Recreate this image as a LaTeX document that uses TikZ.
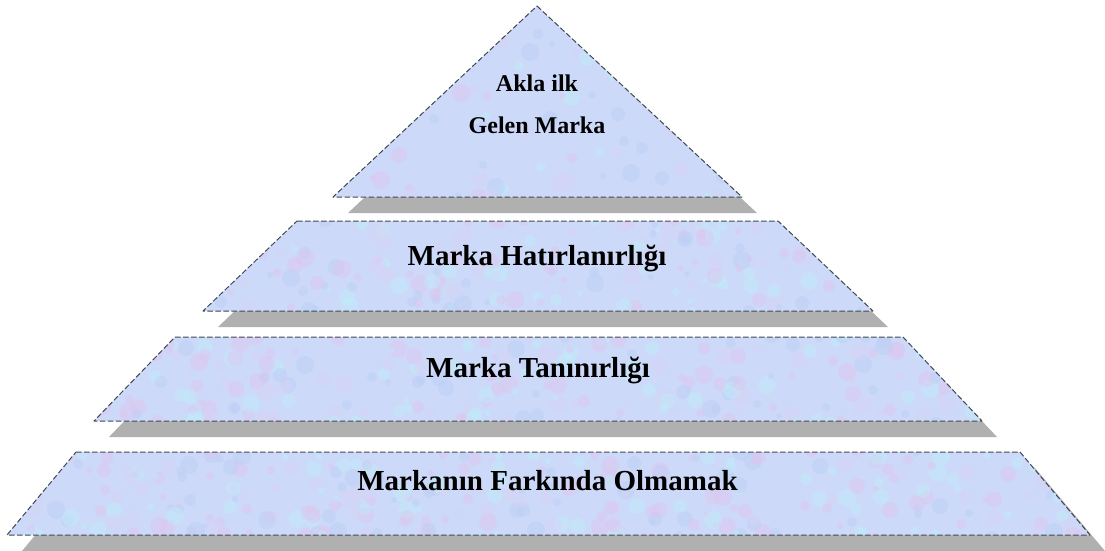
\documentclass[tikz,border=0pt]{standalone}
\usepackage{fontspec}
\setmainfont{Liberation Serif}
\definecolor{layerbase}{RGB}{204,217,248}
\definecolor{spotA}{RGB}{224,196,238}
\definecolor{spotB}{RGB}{190,238,248}
\definecolor{spotC}{RGB}{186,206,244}
\definecolor{spotD}{RGB}{218,210,246}
\definecolor{shadowgray}{RGB}{176,176,176}
\definecolor{edgegray}{RGB}{64,72,82}
\tikzset{
  edge/.style={draw=edgegray, line width=1pt, dash pattern=on 5.5pt off 2.5pt, line join=round},
  lbl/.style={inner sep=0pt, anchor=base, text=black},
  smalltxt/.style={lbl, font=\bfseries\fontsize{24}{29}\selectfont},
  bigtxt/.style={lbl, font=\bfseries\fontsize{29}{34}\selectfont},
}
% one pyramid level: offset shadow, mottled fill, dashed outline
% #1 outline path, #2 seed, #3 top y, #4 bottom y
\newcommand\pyrlevel[4]{%
  \fill[shadowgray, shift={(15,16)}] #1;
  \begin{scope}
    \clip #1;
    \fill[layerbase] (0,#3) rectangle (1105,#4);
    \pgfmathsetseed{#2}
    \foreach \k in {1,...,320}{%
      \pgfmathsetmacro\px{random(0,1105)}%
      \pgfmathsetmacro\py{random(#3,#4)}%
      \pgfmathsetmacro\pr{random(3,9)}%
      \pgfmathtruncatemacro\pc{random(1,4)}%
      \ifcase\pc\or
        \fill[spotA, fill opacity=0.45] (\px,\py) circle[radius=\pr];
      \or
        \fill[spotB, fill opacity=0.45] (\px,\py) circle[radius=\pr];
      \or
        \fill[spotC, fill opacity=0.4] (\px,\py) circle[radius=\pr];
      \else
        \fill[spotD, fill opacity=0.4] (\px,\py) circle[radius=\pr];
      \fi
    }
  \end{scope}
  \draw[edge] #1;
}
\begin{document}
\begin{tikzpicture}[x=1pt, y=-1pt]
  \useasboundingbox (0,0) rectangle (1105,550);

  \pyrlevel{(537,6) -- (742,197) -- (333,197) -- cycle}{11}{0}{200}
  \pyrlevel{(297,221) -- (778,221) -- (873,311) -- (203,311) -- cycle}{23}{218}{314}
  \pyrlevel{(175,337) -- (903,337) -- (982,421) -- (94,421) -- cycle}{37}{334}{424}
  \pyrlevel{(76,452) -- (1020,452) -- (1090,535) -- (7,535) -- cycle}{53}{449}{538}

  \node[smalltxt] (topA) at (537,91) {Akla ilk};
  \node[smalltxt] (topB) at (537,133) {Gelen Marka};
  \node[bigtxt] (recall) at (537,265) {Marka Hatırlanırlığı};
  \node[bigtxt] (recog) at (538,377) {Marka Tanınırlığı};
  \node[bigtxt] (unaware) at (547.5,490) {Markanın Farkında Olmamak};
\end{tikzpicture}
\end{document}
